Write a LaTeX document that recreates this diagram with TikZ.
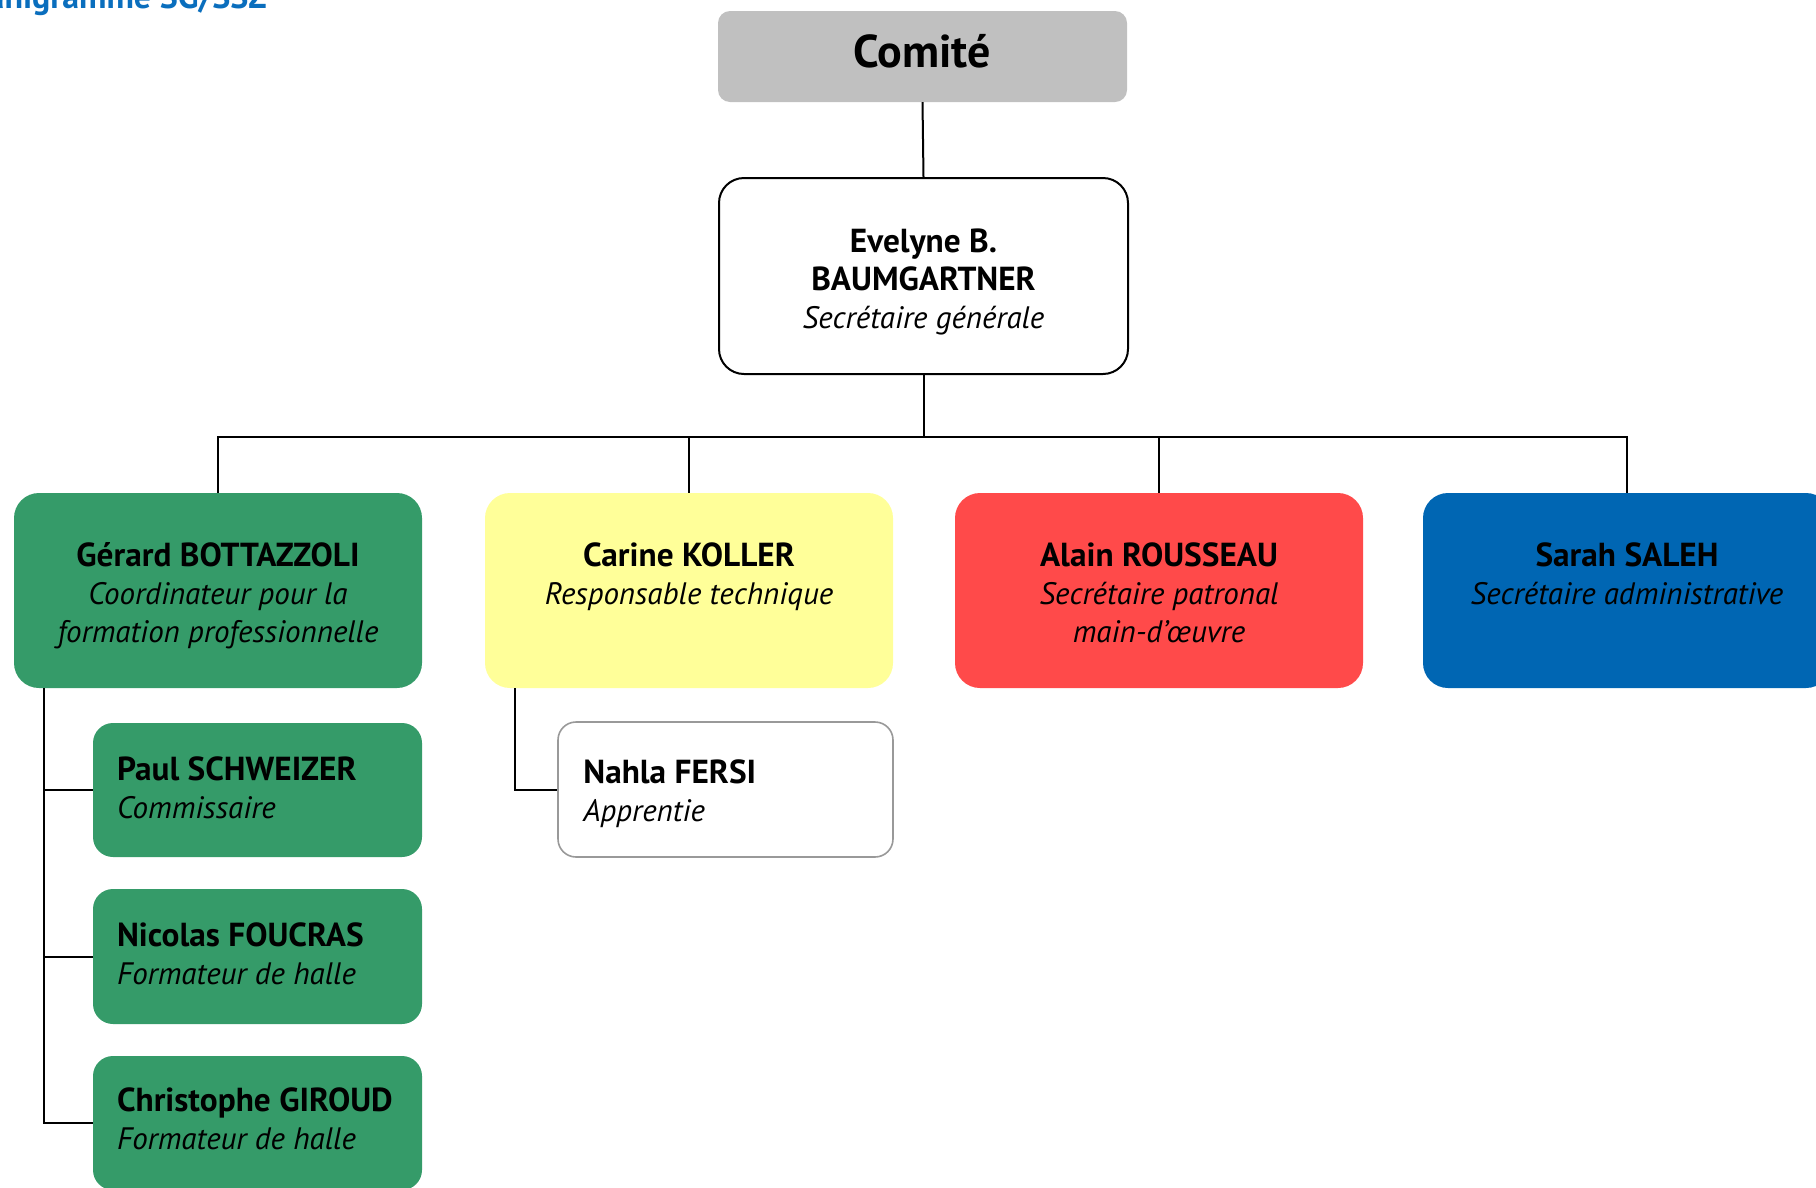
\documentclass[tikz,border=0pt]{standalone}
\usepackage{fontspec}
\setmainfont{PT Sans}
\definecolor{boxgray}{HTML}{C0C0C0}
\definecolor{grn}{HTML}{359B69}
\definecolor{ylw}{HTML}{FFFF99}
\definecolor{rd}{HTML}{FF4A4A}
\definecolor{blu}{HTML}{0066B3}
\definecolor{titleblue}{HTML}{0A6EBD}
\definecolor{nahlagray}{HTML}{999999}
\newcommand{\nm}[1]{{\fontsize{33.3}{38}\selectfont\bfseries #1}}
\newcommand{\rl}[1]{{\fontsize{31}{38}\selectfont\itshape #1}}
\begin{document}
\begin{tikzpicture}[x=1pt,y=-1pt]
\tikzset{
  conn/.style={draw=black, line width=2pt},
  topbox/.style={rectangle, rounded corners=25pt, minimum width=408pt, minimum height=195pt, inner sep=0pt},
  subbox/.style={rectangle, rounded corners=20pt, minimum width=329pt, minimum height=134pt, inner sep=0pt, fill=grn},
  ctxt/.style={font=\fontsize{31}{38}\selectfont, align=center, anchor=base, inner sep=0pt},
  ltxt/.style={font=\fontsize{31}{38}\selectfont, align=left, anchor=base west, inner sep=0pt},
}
\useasboundingbox (0,0) rectangle (1816,1187);
% title (cut by the page edge)
\node[anchor=base east, inner sep=0pt, text=titleblue, font=\fontsize{34}{36}\selectfont\bfseries] (title) at (267,8) {Organigramme SG/SSZ};
% top boxes
\node[rectangle, rounded corners=12pt, minimum width=409pt, minimum height=91pt, inner sep=0pt, fill=boxgray] (comite) at (922.5,56.5) {};
\node[anchor=base, inner sep=0pt, font=\fontsize{46}{50}\selectfont\bfseries] (comitetxt) at (922.5,67) {Comité};
\node[rectangle, rounded corners=25pt, minimum width=409pt, minimum height=196pt, inner sep=0pt, draw=black, line width=2pt, fill=white] (sg) at (923.5,276) {};
\node[ctxt] (sgtxt) at ([yshift=-151pt]sg.north) {\nm{Evelyne B.}\\\nm{BAUMGARTNER}\\\rl{Secrétaire générale}};
% second level
\node[topbox, fill=grn] (green) at (218,590.5) {};
\node[topbox, fill=ylw] (yellow) at (689,590.5) {};
\node[topbox, fill=rd] (red) at (1159,590.5) {};
\node[topbox, fill=blu] (blue) at (1627,590.5) {};
\node[ctxt] (greentxt) at ([yshift=-150pt]green.north) {\nm{Gérard BOTTAZZOLI}\\\rl{Coordinateur pour la}\\\rl{formation professionnelle}};
\node[ctxt] (yellowtxt) at ([yshift=-112pt]yellow.north) {\nm{Carine KOLLER}\\\rl{Responsable technique}};
\node[ctxt] (redtxt) at ([yshift=-150pt]red.north) {\nm{Alain ROUSSEAU}\\\rl{Secrétaire patronal}\\\rl{main-d’œuvre}};
\node[ctxt] (bluetxt) at ([yshift=-112pt]blue.north) {\nm{Sarah SALEH}\\\rl{Secrétaire administrative}};
% third level
\node[subbox] (paul) at (257.5,790) {};
\node[subbox, minimum height=135pt] (nicolas) at (257.5,956.5) {};
\node[subbox] (christophe) at (257.5,1123) {};
\node[rectangle, rounded corners=18pt, minimum width=335pt, minimum height=135pt, inner sep=0pt, draw=nahlagray, line width=1.6pt, fill=white] (nahla) at (725.5,789.5) {};
\node[ltxt] (paultxt) at ([xshift=24pt,yshift=-96pt]paul.north west) {\nm{Paul SCHWEIZER}\\\rl{Commissaire}};
\node[ltxt] (nicolastxt) at ([xshift=24pt,yshift=-96pt]nicolas.north west) {\nm{Nicolas FOUCRAS}\\\rl{Formateur de halle}};
\node[ltxt] (christophetxt) at ([xshift=24pt,yshift=-94pt]christophe.north west) {\nm{Christophe GIROUD}\\\rl{Formateur de halle}};
\node[ltxt] (nahlatxt) at ([xshift=26pt,yshift=-100pt]nahla.north west) {\nm{Nahla FERSI}\\\rl{Apprentie}};
% connectors
\coordinate (bus) at (924,437);
\coordinate (gt) at ([xshift=30pt]green.south west);
\coordinate (yt) at ([xshift=30pt]yellow.south west);
\draw[conn] (comite.south) -- (sg.north);
\draw[conn] (sg.south) -- (sg.south |- bus);
\draw[conn] (green.north) |- (bus) -| (blue.north);
\draw[conn] (yellow.north) -- (yellow.north |- bus);
\draw[conn] (red.north) -- (red.north |- bus);
\draw[conn] (gt) |- (paul.west);
\draw[conn] (gt) |- (nicolas.west);
\draw[conn] (gt) |- (christophe.west);
\draw[conn] (yt) |- (nahla.west);
\end{tikzpicture}
\end{document}
